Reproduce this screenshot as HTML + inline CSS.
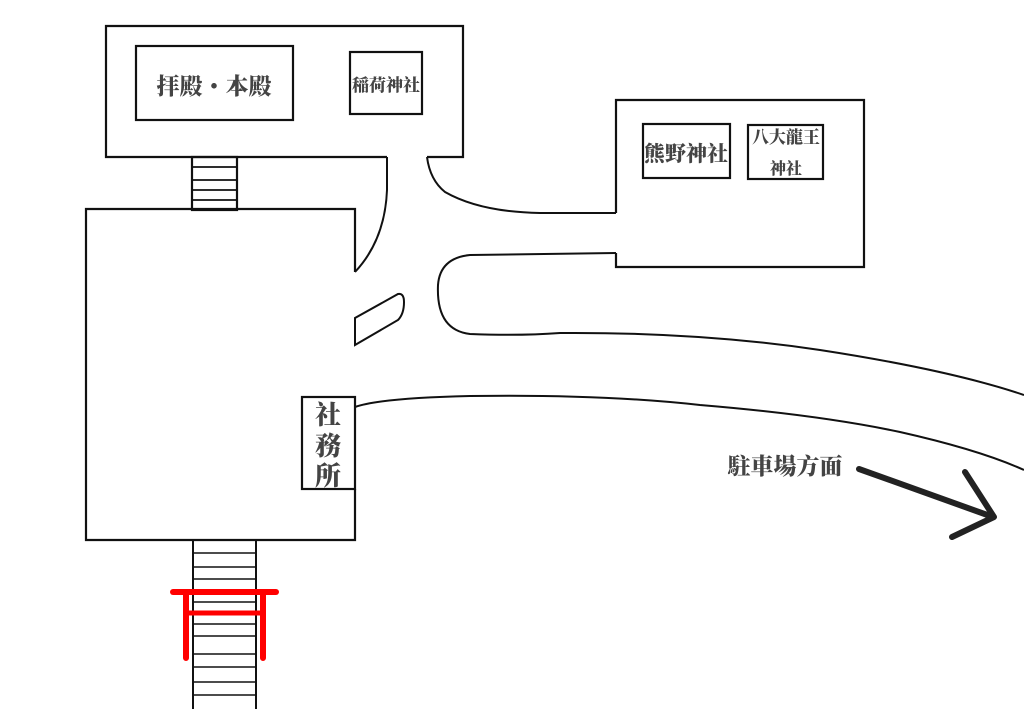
<!DOCTYPE html>
<html><head><meta charset="utf-8"><style>
html,body{margin:0;padding:0;background:#fff;}
svg{display:block}
text{font-family:"Liberation Serif","Noto Serif CJK SC","Noto Sans CJK JP",serif;font-weight:900;fill:#444;}
</style></head><body>
<svg width="1024" height="709" viewBox="0 0 1024 709" xmlns="http://www.w3.org/2000/svg">
<g fill="none" stroke="#111" stroke-width="2.2" stroke-linejoin="miter">
<path d="M387,157 L106,157 L106,26 L463,26 L463,157 L427,157"/>
<rect x="136" y="46" width="157" height="74"/>
<rect x="350" y="52" width="72" height="62"/>
<rect x="192" y="157" width="45" height="53"/>
<path d="M192,167H237M192,180H237M192,190H237M192,200H237" stroke-width="1.8"/>
<path d="M355,272 L355,209 L86,209 L86,540 L355,540 L355,489"/>
<path d="M355,345 L355,318 L398,294 Q404,293 404,302 Q404,314 398,320 Z" stroke-width="2"/>
<path d="M387,157 L387,190 Q385,240 355,272" stroke-width="2"/>
<path d="M427,157 Q430,180 445,192 Q480,212 540,213 L616,213" stroke-width="2"/>
<path d="M616,213 L616,100 L864,100 L864,267 L616,267 L616,253" stroke-width="2.2"/>
<rect x="643" y="124" width="87" height="54"/>
<rect x="748" y="125" width="75" height="54"/>
<path d="M616,253 L470,255 Q440,258 438,285 Q436,330 470,334 Q520,336 560,333 Q700,332 820,350 Q950,370 1024,395" stroke-width="2"/>
<path d="M355,407 Q380,398 470,396 Q600,394 700,405 Q820,415 900,432 Q980,450 1024,470" stroke-width="2"/>
<rect x="302" y="397" width="53" height="92" fill="#fff"/>
<path d="M193,540 V709 M256,540 V709" stroke-width="2"/>
<path d="M193,553H256M193,567H256M193,579H256M193,591H256M193,602H256M193,613H256M193,624H256M193,636H256M193,654H256M193,667H256M193,682H256M193,695H256" stroke-width="1.6"/>
</g>
<g stroke="#ff0000" stroke-linecap="round" fill="none">
<path d="M173,592 L276,592" stroke-width="6"/>
<path d="M186,594 L186,658 M263,594 L263,658" stroke-width="6"/>
<path d="M186,613 L263,613" stroke-width="5"/>
</g>
<g stroke="#222" stroke-width="6" stroke-linecap="round" fill="none" stroke-linejoin="round">
<path d="M859,469 L993,517"/>
<path d="M965,472 L994,517 L952,537"/>
</g>
<text x="214" y="94" font-size="23" text-anchor="middle">拝殿・本殿</text>
<text x="386" y="91" font-size="17" text-anchor="middle">稲荷神社</text>
<text x="686" y="161" font-size="21" text-anchor="middle">熊野神社</text>
<text x="786" y="143" font-size="17" text-anchor="middle">八大龍王</text>
<text x="786" y="174" font-size="16" text-anchor="middle">神社</text>
<text x="328" y="424" font-size="26" text-anchor="middle">社</text>
<text x="328" y="455" font-size="26" text-anchor="middle">務</text>
<text x="328" y="485" font-size="26" text-anchor="middle">所</text>
<text x="785" y="474" font-size="23" text-anchor="middle">駐車場方面</text>
</svg>
</body></html>
